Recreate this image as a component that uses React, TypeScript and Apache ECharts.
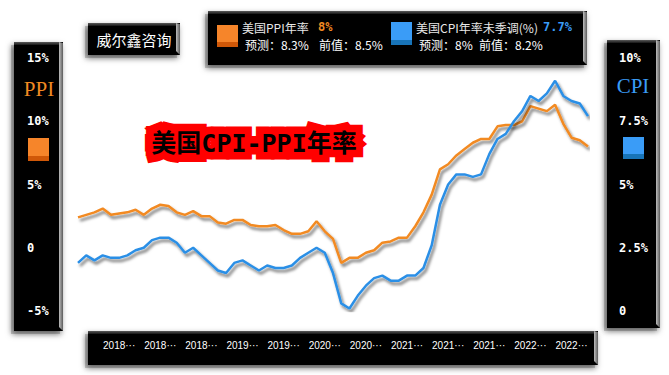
import React, { useEffect, useRef } from "react";
import * as echarts from "echarts";

// Release months (data Aug 2017 .. Oct 2022)
const months = [
  "2017-09", "2017-10", "2017-11", "2017-12",
  "2018-01", "2018-02", "2018-03", "2018-04", "2018-05", "2018-06", "2018-07", "2018-08", "2018-09", "2018-10", "2018-11", "2018-12",
  "2019-01", "2019-02", "2019-03", "2019-04", "2019-05", "2019-06", "2019-07", "2019-08", "2019-09", "2019-10", "2019-11", "2019-12",
  "2020-01", "2020-02", "2020-03", "2020-04", "2020-05", "2020-06", "2020-07", "2020-08", "2020-09", "2020-10", "2020-11", "2020-12",
  "2021-01", "2021-02", "2021-03", "2021-04", "2021-05", "2021-06", "2021-07", "2021-08", "2021-09", "2021-10", "2021-11", "2021-12",
  "2022-01", "2022-02", "2022-03", "2022-04", "2022-05", "2022-06", "2022-07", "2022-08", "2022-09", "2022-10", "2022-11",
];

const ppi = [
  2.4, 2.6, 2.8, 3.1, 2.6,
  2.7, 2.8, 3.0, 2.6, 3.1, 3.4, 3.3, 2.8, 2.6, 2.9, 2.5, 2.5,
  2.0, 1.9, 2.2, 2.2, 1.8, 1.7, 1.7, 1.8, 1.4, 1.1, 1.1, 1.3,
  2.1, 1.3, 0.7, -1.2, -0.8, -0.8, -0.4, -0.2, 0.4, 0.5, 0.8, 0.8,
  1.7, 2.8, 4.2, 6.2, 6.6, 7.3, 7.8, 8.3, 8.6, 8.6, 9.6, 9.7,
  9.7, 10.0, 11.2, 11.0, 10.8, 11.3, 9.8, 8.7, 8.5, 8.0,
];

const cpi = [
  1.9, 2.2, 2.0, 2.2, 2.1,
  2.1, 2.2, 2.4, 2.5, 2.8, 2.9, 2.9, 2.7, 2.3, 2.5, 2.2, 1.9,
  1.6, 1.5, 1.9, 2.0, 1.8, 1.6, 1.8, 1.7, 1.7, 1.8, 2.1, 2.3,
  2.5, 2.3, 1.5, 0.3, 0.1, 0.6, 1.0, 1.3, 1.4, 1.2, 1.2, 1.4,
  1.4, 1.7, 2.6, 4.2, 5.0, 5.4, 5.4, 5.3, 5.4, 6.2, 6.8, 7.0,
  7.5, 7.9, 8.5, 8.3, 8.6, 9.1, 8.5, 8.3, 8.2, 7.7,
];

const xTickMonths = [
  "2018-02", "2018-07", "2018-12", "2019-05", "2019-10", "2020-03",
  "2020-08", "2021-01", "2021-06", "2021-11", "2022-04", "2022-09",
];

const ppiRange = [-5, 15, 5];
const cpiRange = [0, 10, 2.5];

const ppiLegend = ["美国PPI年率", "8%", "预测：8.3%", "前值：8.5%"];
const cpiLegend = ["美国CPI年率未季调(%)", "7.7%", "预测：8%", "前值：8.2%"];
const titleText = "美国CPI-PPI年率";
const brandText = "威尔鑫咨询";

const ORANGE = "#F28A22";
const BLUE = "#2B8FE6";

function panel(x: number, y: number, w: number, h: number): any[] {
  return [
    {
      type: "rect", z: -11,
      shape: { x: x - 3, y: y + 3, width: w, height: h },
      style: { fill: "rgba(0,0,0,0.18)", shadowBlur: 5, shadowColor: "rgba(0,0,0,0.3)" },
    },
    {
      type: "rect", z: -10,
      shape: { x, y, width: w, height: h },
      style: { fill: "#000", shadowBlur: 6, shadowOffsetX: -2, shadowOffsetY: 3, shadowColor: "rgba(0,0,0,0.55)" },
    },
    {
      type: "rect", z: -9,
      shape: { x, y, width: w - 4, height: 3 },
      style: {
        fill: new echarts.graphic.LinearGradient(0, 0, 0, 1, [
          { offset: 0, color: "#5a5a5a" },
          { offset: 1, color: "#151515" },
        ]),
      },
    },
    {
      type: "polygon", z: -9,
      shape: { points: [[x + w - 4, y], [x + w, y + 1], [x + w, y + h], [x + w - 4, y + h - 4]] },
      style: {
        fill: new echarts.graphic.LinearGradient(0, 0, 1, 0, [
          { offset: 0, color: "#bdbdbd" },
          { offset: 1, color: "#5c5c5c" },
        ]),
      },
    },
  ];
}

function icon(x: number, y: number, w: number, h: number, c1: string, c2: string): any[] {
  return [
    { type: "rect", z: 20, shape: { x, y, width: w, height: h }, style: { fill: c1 } },
    { type: "rect", z: 21, shape: { x, y: y + h - 5, width: w, height: 5 }, style: { fill: c2 } },
  ];
}

function txt(x: number, y: number, text: string, fill: string, font: string, align = "left"): any {
  return {
    type: "text", z: 30, x, y,
    style: { text, fill, font, align, verticalAlign: "middle" },
  };
}

const CJK = "'Noto Sans CJK SC', sans-serif";
const MONO = "'DejaVu Sans Mono', monospace";
const TITLE_FONT = `bold 25px 'DejaVu Sans Mono', 'Noto Sans CJK SC', sans-serif`;

export default function App() {
  const ref = useRef<HTMLDivElement>(null);

  useEffect(() => {
    if (!ref.current) return;
    const chart = echarts.init(ref.current, undefined, { renderer: "svg" });

    const graphics: any[] = [
      ...panel(88, 23, 92, 32),
      ...panel(208, 11, 379, 54),
      ...panel(14, 42, 49, 289),
      ...panel(607, 40, 53, 288),
      ...panel(88, 331, 510, 34),
      txt(134, 39, brandText, "#ffffff", `15px ${CJK}`, "center"),
      // legend
      ...icon(217, 25, 21, 22, "#F6852A", "#D05808"),
      txt(242, 27, ppiLegend[0], "#e8e8e8", `12px ${CJK}`),
      txt(318, 27, ppiLegend[1], ORANGE, `bold 12px ${MONO}`),
      txt(245, 44, ppiLegend[2], "#ffffff", `12px ${CJK}`),
      txt(319, 44, ppiLegend[3], "#ffffff", `12px ${CJK}`),
      ...icon(391, 22, 21, 23, "#3A9CF7", "#1874B8"),
      txt(416, 27, cpiLegend[0], "#e8e8e8", `12px ${CJK}`),
      txt(543, 27, cpiLegend[1], "#3A9CF7", `bold 12px ${MONO}`),
      txt(419, 44, cpiLegend[2], "#ffffff", `12px ${CJK}`),
      txt(479, 44, cpiLegend[3], "#ffffff", `12px ${CJK}`),
      // axis side titles and icons
      txt(39, 89, "PPI", ORANGE, `21px 'Liberation Serif', serif`, "center"),
      ...icon(28, 138, 21, 23, "#F6852A", "#D05808"),
      txt(633, 86, "CPI", "#3A9CF7", `21px 'Liberation Serif', serif`, "center"),
      ...icon(623, 137, 21, 22, "#3A9CF7", "#1874B8"),
      // title
      {
        type: "text", z: 40, x: 254, y: 143,
        style: {
          text: titleText,
          font: TITLE_FONT,
          align: "center",
          verticalAlign: "middle",
          fill: new echarts.graphic.LinearGradient(0, 0, 0, 1, [
            { offset: 0, color: "#ffff3a" },
            { offset: 1, color: "#e6c200" },
          ]),
          stroke: "#ff0000",
          lineWidth: 15,
          lineJoin: "round",
          shadowBlur: 5,
          shadowOffsetX: 3,
          shadowOffsetY: 4,
          shadowColor: "rgba(0,0,0,0.45)",
        },
      },
    ];

    chart.setOption({
      animation: false,
      grid: { left: 78, right: 81, top: 58, bottom: 64 },
      xAxis: {
        type: "category",
        data: months,
        boundaryGap: false,
        axisLine: { show: false },
        axisTick: { show: false },
        splitLine: { show: false },
        axisLabel: {
          interval: (_i: number, v: string) => xTickMonths.includes(v),
          formatter: (v: string) => v.slice(0, 4) + "···",
          color: "#ffffff",
          fontSize: 10,
          fontFamily: "'Liberation Sans', sans-serif",
          margin: 29,
        },
      },
      yAxis: [
        {
          type: "value",
          min: ppiRange[0], max: ppiRange[1], interval: ppiRange[2],
          position: "left",
          axisLine: { show: false },
          axisTick: { show: false },
          splitLine: { show: false },
          axisLabel: {
            align: "left",
            margin: 51,
            color: "#ffffff",
            fontWeight: "bold",
            fontSize: 12,
            fontFamily: MONO,
            formatter: (v: number) => (v === 0 ? "0" : `${v}%`),
          },
        },
        {
          type: "value",
          min: cpiRange[0], max: cpiRange[1], interval: cpiRange[2],
          position: "right",
          axisLine: { show: false },
          axisTick: { show: false },
          splitLine: { show: false },
          axisLabel: {
            align: "left",
            margin: 31,
            color: "#ffffff",
            fontWeight: "bold",
            fontSize: 12,
            fontFamily: MONO,
            formatter: (v: number) => (v === 0 ? "0" : `${v}%`),
          },
        },
      ],
      series: [
        {
          name: "PPI",
          type: "line",
          yAxisIndex: 0,
          data: ppi,
          symbol: "none",
          lineStyle: {
            color: ORANGE, width: 2.5,
            shadowColor: "rgba(0,0,0,0.55)", shadowBlur: 3, shadowOffsetX: 2, shadowOffsetY: 3,
          },
        },
        {
          name: "CPI",
          type: "line",
          yAxisIndex: 1,
          data: cpi,
          symbol: "none",
          lineStyle: {
            color: BLUE, width: 2.5,
            shadowColor: "rgba(0,0,0,0.55)", shadowBlur: 3, shadowOffsetX: 2, shadowOffsetY: 3,
          },
        },
      ],
      graphic: { elements: graphics },
    });

    return () => chart.dispose();
  }, []);

  return (
    <div
      ref={ref}
      style={{ position: "fixed", left: 0, top: 0, width: 669, height: 375, background: "#ffffff" }}
    />
  );
}
